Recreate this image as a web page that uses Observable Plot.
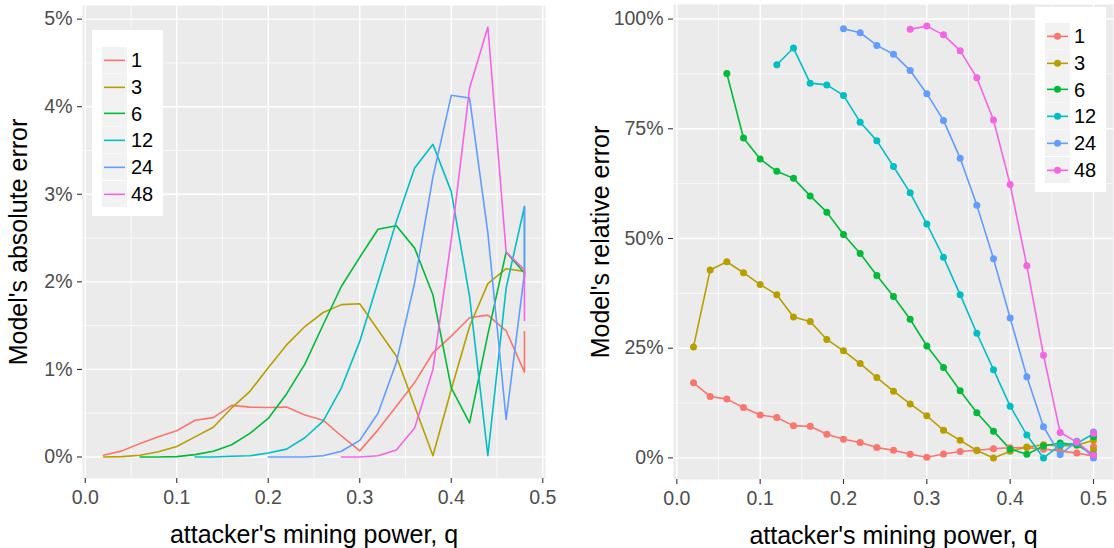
<!DOCTYPE html>
<html>
<head>
<meta charset="utf-8">
<script src="https://cdn.jsdelivr.net/npm/d3@7"></script>
<script src="https://cdn.jsdelivr.net/npm/@observablehq/plot@0.6"></script>
<style>
  html, body { margin: 0; padding: 0; background: #fff; }
  #wrap { position: relative; width: 1114px; height: 548px; overflow: hidden; font-family: "Liberation Sans", Arial, sans-serif; }
  .panel { position: absolute; top: 0; }
  .legend { position: absolute; background: #fff; box-sizing: border-box; }
  .legend .row { position: absolute; left: 10px; height: 26.7px; display: flex; align-items: center; }
  .legend .row span { font-size: 20px; color: #000; margin-left: 4px; line-height: 1; }
  .legend svg { display: block; }
</style>
</head>
<body>
<div id="wrap"></div>
<script>
// ---------- data ----------
const seriesNames = ["1", "3", "6", "12", "24", "48"];
const seriesColors = ["#F8766D", "#B79F00", "#00BA38", "#00BFC4", "#619CFF", "#F564E3"];

// attacker's mining power q (last value duplicated, as in the source data)
const qAbs = [0.02,0.04,0.06,0.08,0.10,0.12,0.14,0.16,0.18,0.20,0.22,0.24,0.26,0.28,0.30,0.32,0.34,0.36,0.38,0.40,0.42,0.44,0.46,0.48,0.48];
const qRel = [0.02,0.04,0.06,0.08,0.10,0.12,0.14,0.16,0.18,0.20,0.22,0.24,0.26,0.28,0.30,0.32,0.34,0.36,0.38,0.40,0.42,0.44,0.46,0.48,0.50,0.50];

// absolute error (%) — each series ends at the end of qAbs
const abs1  = [0.02,0.07,0.155,0.23,0.30,0.42,0.45,0.59,0.57,0.565,0.57,0.48,0.42,0.24,0.07,0.31,0.58,0.85,1.19,1.38,1.59,1.62,1.44,0.97,1.43];
const abs3  = [0,0.004,0.02,0.06,0.12,0.23,0.34,0.56,0.75,1.02,1.28,1.49,1.65,1.74,1.75,1.45,1.15,0.58,0.015,0.77,1.49,1.98,2.15,2.12,2.08];
const abs6  = [0,0,0.004,0.027,0.065,0.14,0.27,0.44,0.72,1.06,1.51,1.95,2.28,2.60,2.64,2.385,1.85,0.79,0.39,1.4,2.34,2.10,2.05];
const abs12 = [0,0,0.008,0.015,0.045,0.09,0.22,0.41,0.79,1.32,2.0,2.69,3.30,3.57,3.03,1.835,0.015,1.93,2.86,2.1];
const abs24 = [0,0,0,0.015,0.065,0.19,0.50,1.08,1.99,3.20,4.13,4.10,2.56,0.43,2.1,2.86];
const abs48 = [0,0,0.015,0.08,0.33,1.0,2.48,4.21,4.91,2.34,2.14,1.56];

// relative error (%) — each series ends at the end of qRel
const rel1  = [17.1,14.0,13.4,11.5,9.8,9.2,7.3,7.2,5.4,4.25,3.5,2.35,1.75,0.84,0.15,0.9,1.45,1.75,2.1,2.3,2.35,2.0,1.6,1.1,0.4,2.6];
const rel3  = [25.3,42.8,44.7,42.2,39.5,37.2,32.1,31.1,27.0,24.4,21.5,18.3,15.2,12.3,9.6,6.3,4.0,1.7,0,1.5,2.5,3.0,2.7,2.9,4.0,1.8];
const rel6  = [87.6,72.9,68.1,65.3,63.7,59.7,56.0,50.9,46.6,41.55,36.8,31.6,25.5,20.6,15.3,10.3,6.1,2.0,0.84,2.7,3.4,3.0,0.7,4.8];
const rel12 = [89.6,93.4,85.4,85.0,82.6,76.5,72.3,66.4,60.4,53.3,45.7,37.2,28.4,20.1,11.8,5.2,0,2.9,3.3,5.5,0.5];
const rel24 = [97.8,96.9,94.0,92.0,88.3,83.0,76.9,68.3,57.6,45.4,31.9,18.5,7.1,0.76,3.8,0.0,5.9];
const rel48 = [97.7,98.4,96.4,92.8,86.6,77.0,62.3,43.8,23.4,5.8,3.6,0.6,5.6];

const xTicks = [0, 0.1, 0.2, 0.3, 0.4, 0.5];
const xMinor = [0.05, 0.15, 0.25, 0.35, 0.45];
const absTicks = [0, 1, 2, 3, 4, 5];
const absMinor = [0.5, 1.5, 2.5, 3.5, 4.5];
const relTicks = [0, 25, 50, 75, 100];
const relMinor = [12.5, 37.5, 62.5, 87.5];

const xTitle = "attacker's mining power, q";
const absTitle = "Model's absolute error";
const relTitle = "Model's relative error";

// ---------- build tables ----------
function table(q, lists) {
  const rows = [];
  lists.forEach((vals, i) => {
    const off = q.length - vals.length;
    vals.forEach((v, j) => rows.push({q: q[off + j], v, s: seriesNames[i]}));
  });
  return rows;
}
const absData = table(qAbs, [abs1, abs3, abs6, abs12, abs24, abs48]);
const relData = table(qRel, [rel1, rel3, rel6, rel12, rel24, rel48]);

const FONT = '"Liberation Sans", Arial, sans-serif';

function panel({data, xDomain, yDomain, yTicks, yMinor, yTitle, dots, margins, yLabelOffset}) {
  return Plot.plot({
    width: 557, height: 548,
    ...margins,
    style: {fontFamily: FONT, background: "transparent", overflow: "visible"},
    x: {domain: xDomain},
    y: {domain: yDomain},
    color: {domain: seriesNames, range: seriesColors},
    marks: [
      Plot.frame({fill: "#EBEBEB", stroke: "none"}),
      Plot.ruleX(xMinor, {stroke: "white", strokeWidth: 0.7}),
      Plot.ruleY(yMinor, {stroke: "white", strokeWidth: 0.7}),
      Plot.ruleX(xTicks, {stroke: "white", strokeWidth: 1.4}),
      Plot.ruleY(yTicks, {stroke: "white", strokeWidth: 1.4}),
      Plot.line(data, {x: "q", y: "v", z: "s", stroke: "s", strokeWidth: 1.6, curve: "linear"}),
      dots ? Plot.dot(data, {x: "q", y: "v", fill: "s", r: 3.5, stroke: "none"}) : null,
      Plot.axisX({ticks: xTicks, tickFormat: d => d.toFixed(1), tickSize: 5, tickPadding: 7, fontSize: 19.5,
                  fill: "#4D4D4D", stroke: "#333333", strokeWidth: 1.1, label: null}),
      Plot.axisY({ticks: yTicks, tickFormat: d => d + "%", tickSize: 5, tickPadding: 5, fontSize: 19.5,
                  fill: "#4D4D4D", stroke: "#333333", strokeWidth: 1.1, label: null}),
      Plot.axisX({ticks: [], tickSize: 0, label: xTitle, labelAnchor: "center", labelOffset: 64,
                  fontSize: 25, fill: "black", labelArrow: "none"}),
      Plot.axisY({ticks: [], tickSize: 0, label: yTitle, labelAnchor: "center", labelOffset: yLabelOffset,
                  fontSize: 25, fill: "black", labelArrow: "none"})
    ]
  });
}

const left = panel({
  data: absData, xDomain: [-0.003, 0.503], yDomain: [-0.2455, 5.1555],
  yTicks: absTicks, yMinor: absMinor, yTitle: absTitle, dots: false,
  margins: {marginLeft: 82, marginRight: 12, marginTop: 5, marginBottom: 70},
  yLabelOffset: 73
});
const right = panel({
  data: relData, xDomain: [-0.004, 0.524], yDomain: [-4.92, 103.32],
  yTicks: relTicks, yMinor: relMinor, yTitle: relTitle, dots: true,
  margins: {marginLeft: 116, marginRight: 1, marginTop: 4, marginBottom: 69},
  yLabelOffset: 82
});

const wrap = document.getElementById("wrap");
left.classList.add("panel"); left.style.left = "0px";
right.classList.add("panel"); right.style.left = "557px";
wrap.appendChild(left);
wrap.appendChild(right);

// ---------- legends ----------
function legend(pos, withDot) {
  const box = d3.select(wrap).append("div").attr("class", "legend")
    .style("left", pos.left + "px").style("top", pos.top + "px")
    .style("width", pos.w + "px").style("height", pos.h + "px");
  seriesNames.forEach((name, i) => {
    const row = box.append("div").attr("class", "row").style("top", (pos.pad + i * 26.7) + "px");
    const svg = row.append("svg").attr("width", 25).attr("height", 26.7);
    svg.append("rect").attr("width", 25).attr("height", 26.7).attr("fill", "#F2F2F2");
    svg.append("line").attr("x1", 2).attr("x2", 23).attr("y1", 13.35).attr("y2", 13.35)
      .attr("stroke", seriesColors[i]).attr("stroke-width", 1.6);
    if (withDot) svg.append("circle").attr("cx", 12.5).attr("cy", 13.35).attr("r", 3.5).attr("fill", seriesColors[i]);
    row.append("span").text(name);
  });
}
legend({left: 92, top: 30, w: 71, h: 186, pad: 17}, false);
legend({left: 1035, top: 7, w: 71, h: 185, pad: 16}, true);
</script>
</body>
</html>
